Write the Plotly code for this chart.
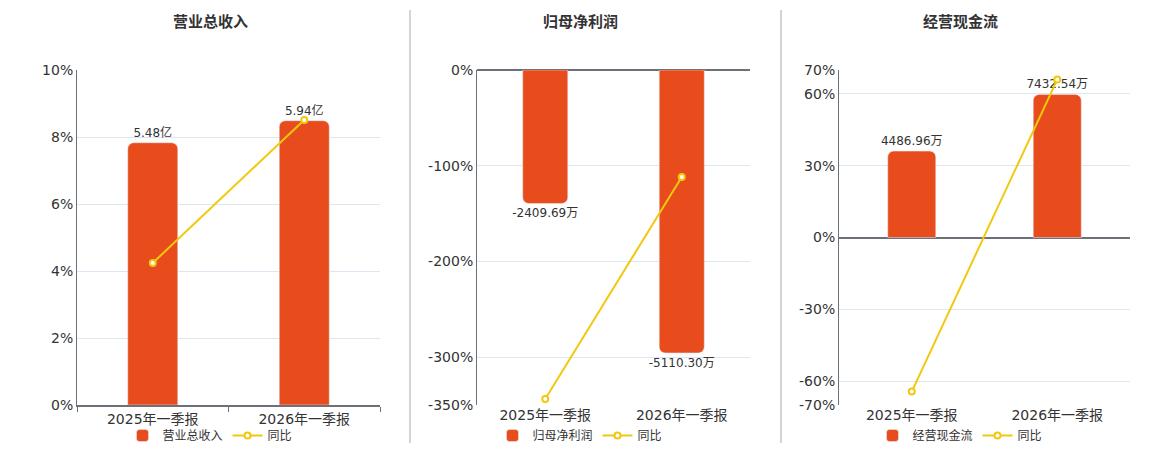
import plotly.graph_objects as go

categories = ["2025年一季报", "2026年一季报"]

titles = ["营业总收入", "归母净利润", "经营现金流"]

rev_values = [5.48, 5.94]          # 亿
rev_labels = ["5.48亿", "5.94亿"]
rev_yoy = [4.24, 8.51]             # %

np_values = [-2409.69, -5110.30]   # 万
np_labels = ["-2409.69万", "-5110.30万"]
np_yoy = [-343.7, -111.8]          # %

cf_values = [4486.96, 7432.54]     # 万
cf_labels = ["4486.96万", "7432.54万"]
cf_yoy = [-64.4, 66.0]             # %

pct_ticks = [[0, 2, 4, 6, 8, 10], [0, -100, -200, -300, -350], [70, 60, 30, 0, -30, -60, -70]]

BAR = "#e84c1c"
LINE = "#f2c80f"
AX = "#6e7079"
GRID = "#e0e6f1"
TXT = "#333333"
FONT = "DejaVu Sans, Noto Sans CJK SC, sans-serif"

# page has an 8px body margin: figure is placed at (8, 8)
OFF = 8
W, H = 1160 - OFF, 450 - OFF
def px(x): return (x - OFF) / W
def py(y): return 1 - (y - OFF) / H

fig = go.Figure()

panels = [
    dict(vals=rev_values, labels=rev_labels, yoy=rev_yoy, brange=[0, 7], prange=[0, 10],
         xd=[px(77), px(380)], cx=px(210), zero=None),
    dict(vals=np_values, labels=np_labels, yoy=np_yoy, brange=[-6050, 0], prange=[-350, 0],
         xd=[px(477), px(750)], cx=px(580), zero=py(70)),
    dict(vals=cf_values, labels=cf_labels, yoy=cf_yoy, brange=[-8700, 8700], prange=[-70, 70],
         xd=[px(839), px(1130)], cx=px(960), zero=py(238)),
]

ydom = [py(405), py(70)]
layout = {}
for i, p in enumerate(panels):
    xn = i + 1
    yb = 2 * i + 1
    yp = 2 * i + 2
    xs = "x" if xn == 1 else f"x{xn}"
    ybs = "y" if yb == 1 else f"y{yb}"
    yps = f"y{yp}"
    leg = "legend" if i == 0 else f"legend{i+1}"
    fig.add_trace(go.Bar(
        x=categories, y=p["vals"], xaxis=xs, yaxis=ybs, name=titles[i],
        marker=dict(color=BAR, cornerradius=6), width=0.33,
        text=p["labels"], textposition="outside", cliponaxis=False, constraintext="none",
        textfont=dict(size=12, color=TXT, family=FONT), legend=leg,
        hoverinfo="skip"))
    fig.add_trace(go.Scatter(
        x=categories, y=p["yoy"], xaxis=xs, yaxis=yps, name="同比", mode="lines+markers",
        line=dict(color=LINE, width=2),
        marker=dict(symbol="circle", size=6, color="white", line=dict(color=LINE, width=2)),
        legend=leg, cliponaxis=False, hoverinfo="skip"))

    xkey = "xaxis" if xn == 1 else f"xaxis{xn}"
    layout[xkey] = dict(
        domain=p["xd"], anchor=ybs, type="category", range=[-0.5, 1.5],
        showline=(p["zero"] is None), linecolor=AX, linewidth=1.5,
        ticks="outside" if p["zero"] is None else "", tickson="boundaries",
        ticklen=5, tickcolor=AX, showgrid=False, automargin=False,
        tickfont=dict(size=14, color=TXT, family=FONT), fixedrange=True)
    ybkey = "yaxis" if yb == 1 else f"yaxis{yb}"
    layout[ybkey] = dict(
        domain=ydom, anchor=xs, range=p["brange"], showticklabels=False, showgrid=False,
        zeroline=False, showline=False, ticks="", fixedrange=True, automargin=False)
    layout[f"yaxis{yp}"] = dict(
        domain=ydom, anchor=xs, overlaying=ybs, side="left", range=p["prange"],
        tickvals=pct_ticks[i], ticktext=[f"{v}%" for v in pct_ticks[i]],
        showgrid=True, gridcolor=GRID, gridwidth=1,
        zeroline=(p["zero"] is not None), zerolinecolor=AX, zerolinewidth=1.5,
        showline=True, linecolor=AX, linewidth=1, ticks="", automargin=False,
        tickfont=dict(size=14, color=TXT, family=FONT), fixedrange=True)
    layout[leg] = dict(
        orientation="h", x=p["cx"], xanchor="center", y=0, yanchor="bottom",
        font=dict(size=12, color=TXT, family=FONT), bgcolor="rgba(0,0,0,0)",
        itemwidth=30, tracegroupgap=0)
    fig.add_annotation(
        text=f"<b>{titles[i]}</b>", x=p["cx"], y=py(22), xref="paper", yref="paper",
        showarrow=False, font=dict(size=15, color=TXT, family=FONT), xanchor="center", yanchor="middle")

# zero-position axis lines with boundary ticks for panels 2 and 3
for key, ov, pos in [("xaxis4", "x2", panels[1]["zero"]), ("xaxis5", "x3", panels[2]["zero"])]:
    layout[key] = dict(overlaying=ov, anchor="free", position=pos, range=[-0.5, 1.5],
                       tickvals=[0.5, 1.5], ticks="outside", ticklen=5, tickcolor=AX,
                       showticklabels=False, showline=True, linecolor=AX, linewidth=1.5,
                       showgrid=False, zeroline=False, fixedrange=True, automargin=False)

fig.update_layout(**layout)

for xsep in [410, 781]:
    fig.add_shape(type="line", xref="paper", yref="paper", x0=px(xsep), x1=px(xsep),
                  y0=py(10), y1=py(443), line=dict(color="#aaaaaa", width=1))

fig.update_layout(
    width=W, height=H, margin=dict(l=0, r=0, t=0, b=0),
    paper_bgcolor="white", plot_bgcolor="white", barmode="overlay",
    font=dict(family=FONT, color=TXT), showlegend=True)

fig.write_html("out.html")
